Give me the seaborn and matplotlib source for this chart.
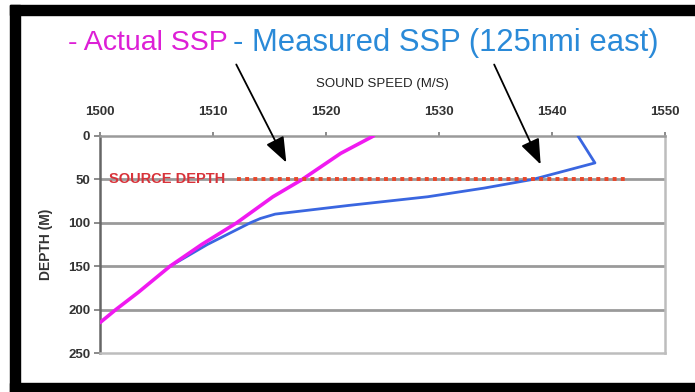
import numpy as np
import pandas as pd
import matplotlib
matplotlib.use("Agg")
import matplotlib.pyplot as plt
from matplotlib.patches import Rectangle
import seaborn as sns

# ---- data ----
actual_depth = [0, 20, 50, 70, 100, 125, 150, 180, 200, 215]
actual_speed = [1524.2, 1521.3, 1517.9, 1515.3, 1512.1, 1509.0, 1506.2, 1503.4, 1501.4, 1500.0]

measured_depth = [0, 31, 40, 50, 60, 70, 80, 90, 95, 100, 125, 150]
measured_speed = [1542.3, 1543.8, 1541.2, 1538.3, 1534.0, 1529.0, 1522.0, 1515.5, 1514.2, 1513.3, 1509.5, 1506.2]

source_depth = 50
source_speed_range = [1512.1, 1546.5]

x_ticks = [1500, 1510, 1520, 1530, 1540, 1550]
x_tick_labels = ["1500", "1510", "1520", "1530", "1540", "1550"]
y_ticks = [0, 50, 100, 150, 200, 250]

title_actual = "- Actual SSP"
title_measured = "- Measured SSP (125nmi east)"

sns.set_theme(style="white")
plt.rcParams['font.family'] = ['Liberation Sans', 'DejaVu Sans']

W, H = 695, 392
fig = plt.figure(figsize=(W / 100, H / 100), dpi=100)
fig.patch.set_facecolor("white")
ax = fig.add_axes([100 / W, (H - 353) / H, 565 / W, 217 / H])

df_a = pd.DataFrame({"speed": actual_speed, "depth": actual_depth})
df_m = pd.DataFrame({"speed": measured_speed, "depth": measured_depth})
df_s = pd.DataFrame({"speed": source_speed_range, "depth": [source_depth] * 2})

# grid lines
for yv in y_ticks[1:-1]:
    ax.axhline(yv, color="#9a9a9a", lw=2.0, zorder=0)

sns.lineplot(data=df_m, x="speed", y="depth", sort=False, estimator=None,
             color="#3a66e0", lw=2.0, ax=ax, zorder=3)
sns.lineplot(data=df_a, x="speed", y="depth", sort=False, estimator=None,
             color="#f01af0", lw=2.6, ax=ax, zorder=4)
sns.lineplot(data=df_s, x="speed", y="depth", sort=False, estimator=None,
             color="#e8472a", lw=2.8, ax=ax, zorder=5, linestyle=(0, (1.0, 1.1)))

ax.set_xlim(1500, 1550)
ax.set_ylim(250, 0)
ax.xaxis.tick_top()
ax.xaxis.set_label_position("top")
ax.set_xticks(x_ticks)
ax.set_xticklabels(x_tick_labels)
ax.set_yticks(y_ticks)
ax.tick_params(axis="x", direction="out", length=3, width=1.2, color="#777777",
               pad=10, labelsize=9.5, labelcolor="#333333")
ax.tick_params(axis="y", direction="out", length=4, width=1.2, color="#777777",
               pad=3, labelsize=9.5, labelcolor="#333333", left=True)
for lab in ax.get_xticklabels() + ax.get_yticklabels():
    lab.set_fontweight("bold")

ax.set_xlabel("SOUND SPEED (M/S)", fontsize=9.5, color="#222222", labelpad=14)
ax.set_ylabel("DEPTH (M)", fontsize=10, fontweight="bold", color="#333333", labelpad=11)

for side, col in [("top", "#9a9a9a"), ("left", "#666666"), ("right", "#bdbdbd"), ("bottom", "#bdbdbd")]:
    ax.spines[side].set_visible(True)
    ax.spines[side].set_color(col)
    ax.spines[side].set_linewidth(1.8)

ax.text(1500.8, source_depth, "SOURCE DEPTH", color="#d8333a", fontsize=10.5,
        fontweight="bold", va="center", ha="left", zorder=6)

# arrows from title to curves
ax.annotate("", xy=(1516.6, 33.4), xycoords="data",
            xytext=(235, H - 62), textcoords="figure pixels",
            arrowprops=dict(arrowstyle="-|>,head_length=1.3,head_width=0.5",
                            color="black", lw=1.3), annotation_clip=False, zorder=7)
ax.annotate("", xy=(1539.1, 35.7), xycoords="data",
            xytext=(493, H - 62), textcoords="figure pixels",
            arrowprops=dict(arrowstyle="-|>,head_length=1.3,head_width=0.5",
                            color="black", lw=1.3), annotation_clip=False, zorder=7)

# title in two colours
fig.text(68 / W, (H - 43) / H, title_actual, color="#dd1fd6", fontsize=20.5,
         ha="left", va="center")
fig.text(233 / W, (H - 43) / H, title_measured, color="#2a8ad8", fontsize=22.3,
         ha="left", va="center")

# black frame
fig.patches.append(Rectangle((10 / W, 0), 10 / W, 387 / H, transform=fig.transFigure,
                             color="black", zorder=0))
fig.patches.append(Rectangle((10 / W, (H - 15) / H), 1, 10 / H, transform=fig.transFigure,
                             color="black", zorder=0))
fig.patches.append(Rectangle((10 / W, 0), 1, 9 / H, transform=fig.transFigure,
                             color="black", zorder=0))

fig.savefig("out.png", dpi=100, facecolor="white")
